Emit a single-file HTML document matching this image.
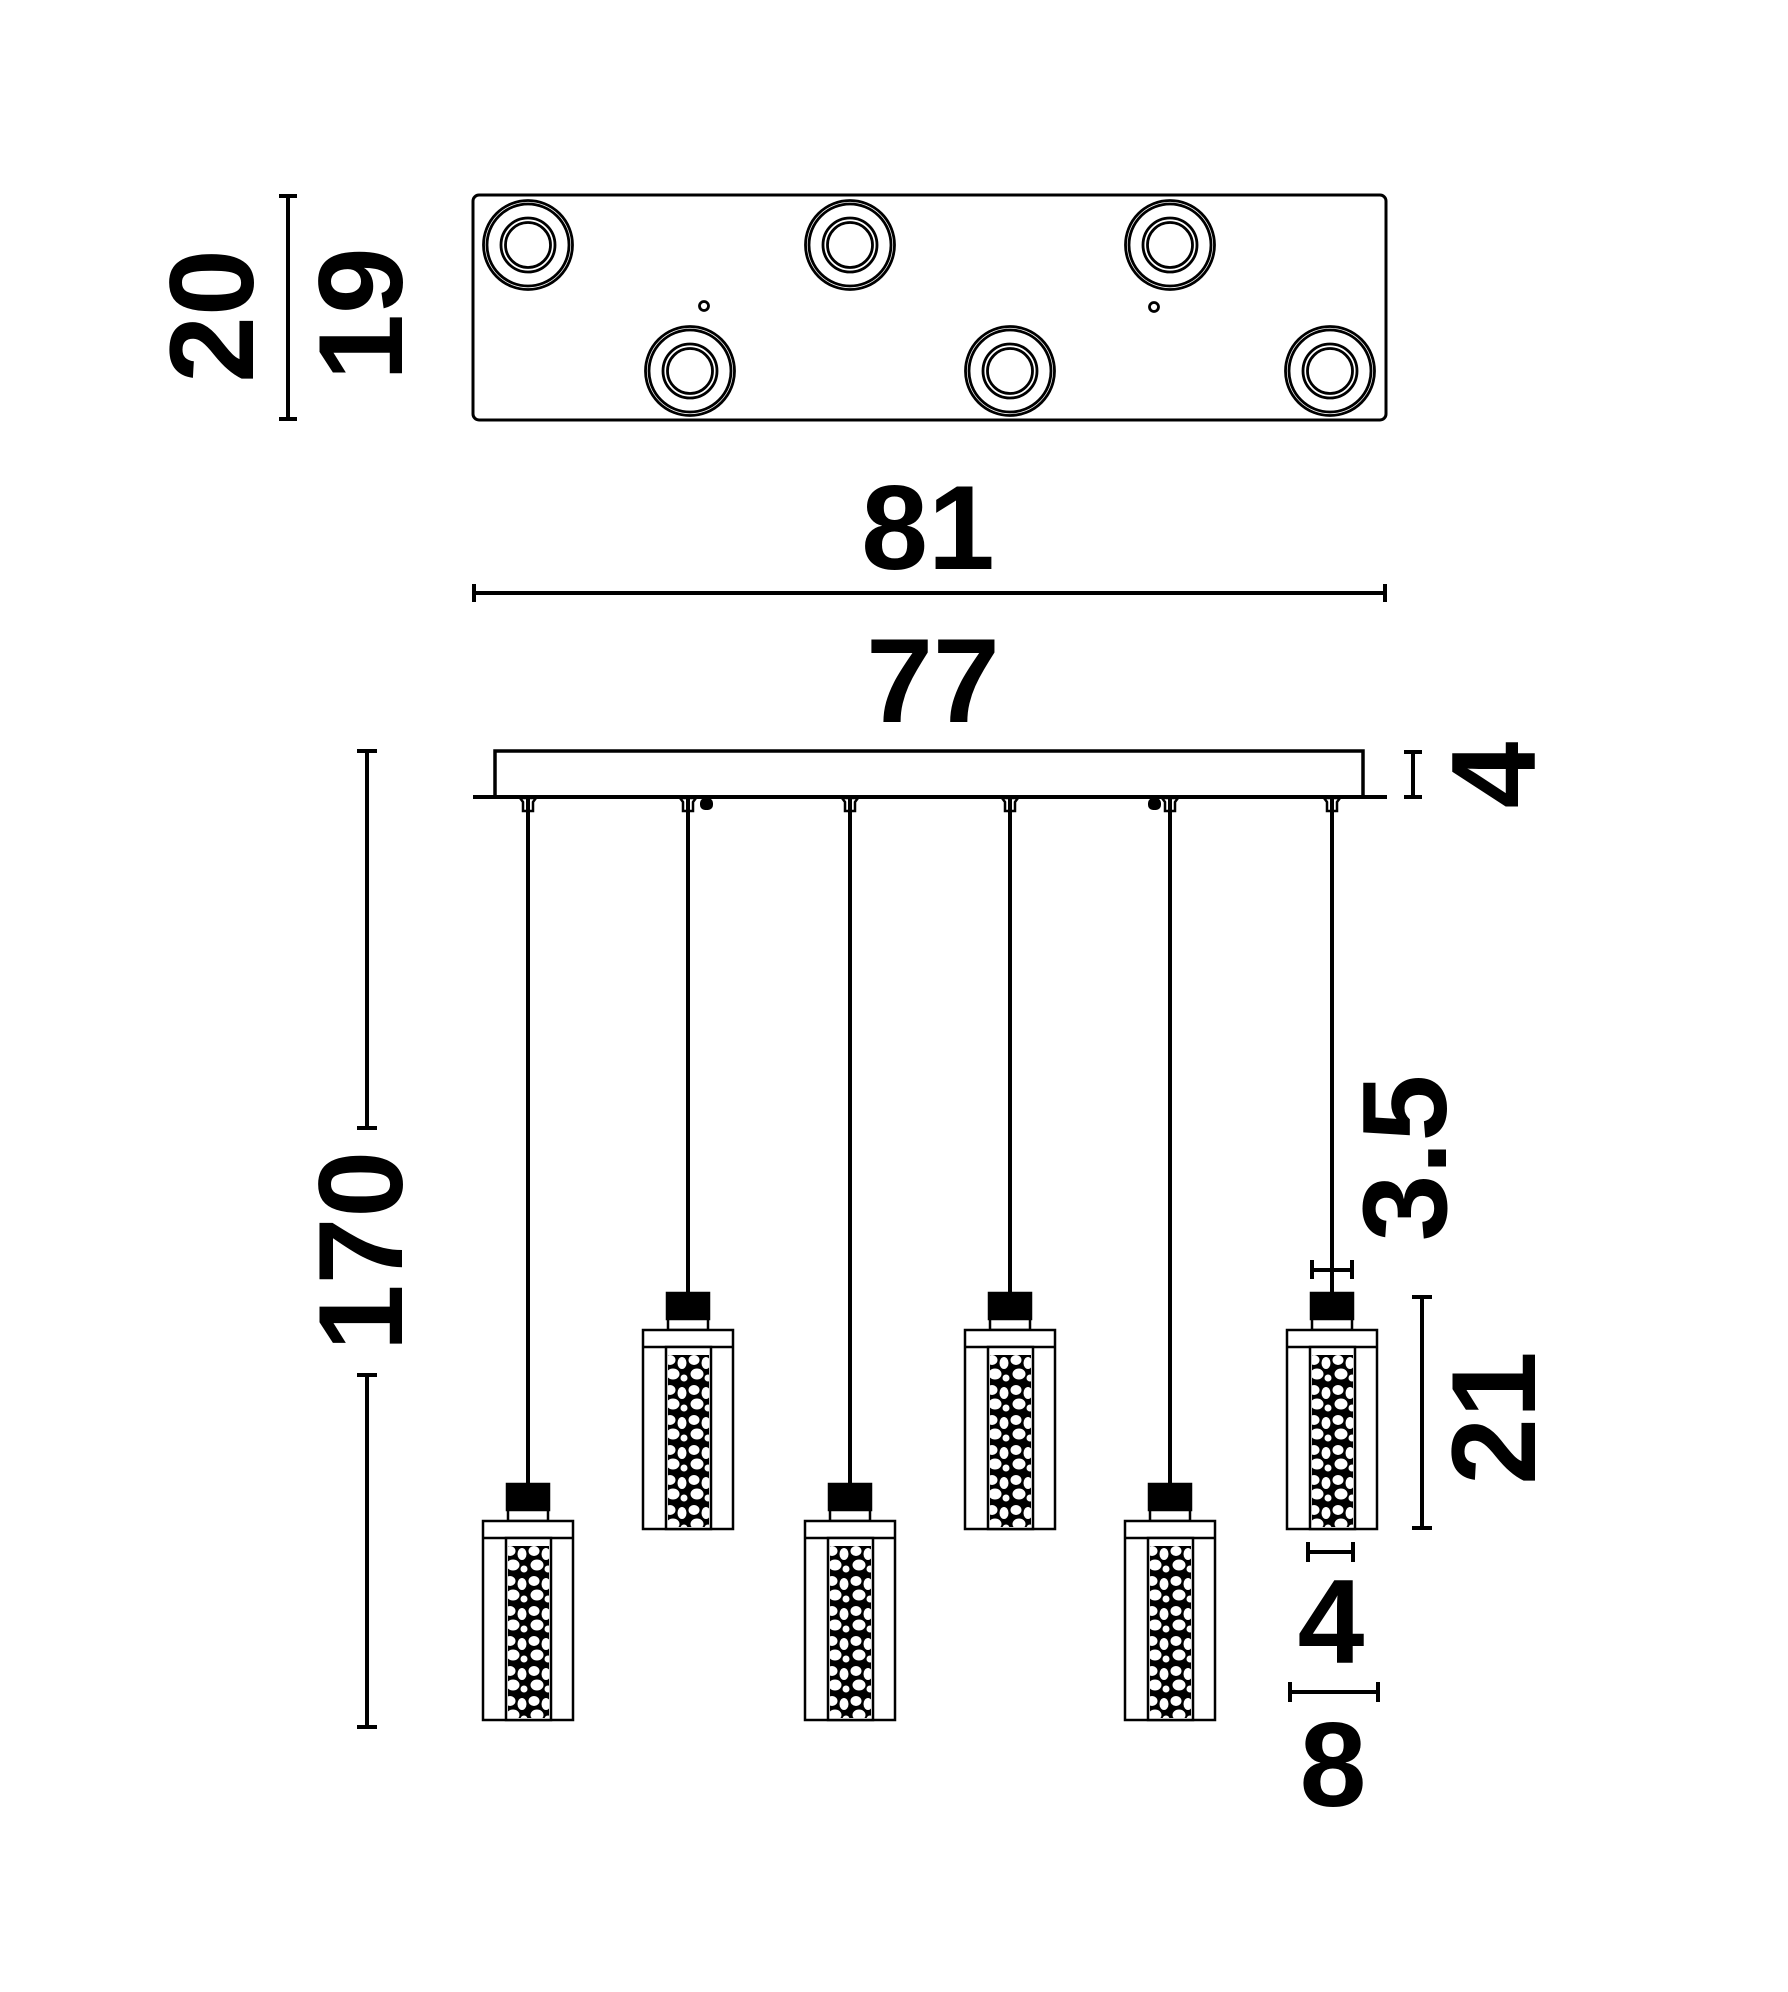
<!DOCTYPE html>
<html><head><meta charset="utf-8"><style>html,body{margin:0;padding:0;background:#fff}svg{display:block}</style></head>
<body>
<svg width="1788" height="1992" viewBox="0 0 1788 1992" xmlns="http://www.w3.org/2000/svg">
<defs>
<pattern id="peb" width="24" height="30" patternUnits="userSpaceOnUse">
<rect width="24" height="30" fill="#000"/>
<ellipse cx="6" cy="7" rx="5.5" ry="5" fill="#fff"/>
<ellipse cx="18" cy="10" rx="4.5" ry="6" fill="#fff"/>
<ellipse cx="9" cy="21" rx="6.5" ry="5.5" fill="#fff"/>
<ellipse cx="20" cy="25" rx="3.5" ry="3.5" fill="#fff"/>
</pattern>
</defs>
<g fill="none" stroke="#000" stroke-width="3">
<rect x="473" y="195" width="913" height="225" rx="6"/>
</g>
<g fill="none" stroke="#000" stroke-width="2.8">
<g><circle cx="528" cy="245" r="44.5"/><circle cx="528" cy="245" r="41"/><circle cx="528" cy="245" r="27"/><circle cx="528" cy="245" r="22.5"/></g>
<g><circle cx="850" cy="245" r="44.5"/><circle cx="850" cy="245" r="41"/><circle cx="850" cy="245" r="27"/><circle cx="850" cy="245" r="22.5"/></g>
<g><circle cx="1170" cy="245" r="44.5"/><circle cx="1170" cy="245" r="41"/><circle cx="1170" cy="245" r="27"/><circle cx="1170" cy="245" r="22.5"/></g>
<g><circle cx="690" cy="371" r="44.5"/><circle cx="690" cy="371" r="41"/><circle cx="690" cy="371" r="27"/><circle cx="690" cy="371" r="22.5"/></g>
<g><circle cx="1010" cy="371" r="44.5"/><circle cx="1010" cy="371" r="41"/><circle cx="1010" cy="371" r="27"/><circle cx="1010" cy="371" r="22.5"/></g>
<g><circle cx="1330" cy="371" r="44.5"/><circle cx="1330" cy="371" r="41"/><circle cx="1330" cy="371" r="27"/><circle cx="1330" cy="371" r="22.5"/></g>
<circle cx="704" cy="306" r="4.5"/><circle cx="1154" cy="307" r="4.5"/>
</g>
<g stroke="#000" stroke-width="4" fill="none">
<line x1="288" y1="196" x2="288" y2="419"/><line x1="279" y1="196" x2="297" y2="196"/><line x1="279" y1="419" x2="297" y2="419"/>
<line x1="474" y1="593" x2="1385" y2="593"/><line x1="474" y1="584" x2="474" y2="602"/><line x1="1385" y1="584" x2="1385" y2="602"/>
<rect x="495" y="751" width="868" height="46" stroke-width="3.5"/>
<line x1="473" y1="797" x2="1387" y2="797"/>
<line x1="1413" y1="752" x2="1413" y2="797"/><line x1="1404" y1="752" x2="1422" y2="752"/><line x1="1404" y1="797" x2="1422" y2="797"/>
<line x1="367" y1="751" x2="367" y2="1128"/><line x1="367" y1="1375" x2="367" y2="1727"/>
<line x1="357" y1="751" x2="377" y2="751"/><line x1="357" y1="1727" x2="377" y2="1727"/>
<line x1="357" y1="1128" x2="377" y2="1128"/><line x1="357" y1="1375" x2="377" y2="1375"/>
<line x1="1422" y1="1297" x2="1422" y2="1528"/><line x1="1412" y1="1297" x2="1432" y2="1297"/><line x1="1412" y1="1528" x2="1432" y2="1528"/>
<line x1="1312" y1="1270" x2="1352" y2="1270"/><line x1="1312" y1="1260" x2="1312" y2="1279"/><line x1="1352" y1="1260" x2="1352" y2="1279"/>
<line x1="1308" y1="1552" x2="1353" y2="1552"/><line x1="1308" y1="1542" x2="1308" y2="1562"/><line x1="1353" y1="1542" x2="1353" y2="1562"/>
<line x1="1290" y1="1692" x2="1378" y2="1692"/><line x1="1290" y1="1682" x2="1290" y2="1702"/><line x1="1378" y1="1682" x2="1378" y2="1702"/>
</g>
<rect x="700" y="798" width="13" height="12" rx="5" fill="#000"/>
<rect x="1148" y="798" width="13" height="12" rx="5" fill="#000"/>
<g stroke="#000" fill="none">
<g stroke-width="4">
<line x1="528" y1="797" x2="528" y2="1484"/><line x1="688" y1="797" x2="688" y2="1293"/>
<line x1="850" y1="797" x2="850" y2="1484"/><line x1="1010" y1="797" x2="1010" y2="1293"/>
<line x1="1170" y1="797" x2="1170" y2="1484"/><line x1="1332" y1="797" x2="1332" y2="1293"/>
</g>
<g stroke-width="2.5">
<path d="M520 798 h16 l-3 4 v9 h-10 v-9z"/><path d="M680 798 h16 l-3 4 v9 h-10 v-9z"/>
<path d="M842 798 h16 l-3 4 v9 h-10 v-9z"/><path d="M1002 798 h16 l-3 4 v9 h-10 v-9z"/>
<path d="M1162 798 h16 l-3 4 v9 h-10 v-9z"/><path d="M1324 798 h16 l-3 4 v9 h-10 v-9z"/>
</g>
</g>
<g stroke="#000" stroke-width="2.5">
<g transform="translate(528,1484)"><rect x="-21" y="0" width="42" height="26" fill="#000"/><rect x="-20" y="26" width="40" height="11" fill="#fff"/><rect x="-45" y="37" width="90" height="199" fill="#fff"/><line x1="-45" y1="54" x2="45" y2="54"/><rect x="-22" y="54" width="45" height="182" fill="#fff"/><rect x="-20" y="62" width="41" height="172" fill="url(#peb)" stroke="none"/></g>
<g transform="translate(688,1293)"><rect x="-21" y="0" width="42" height="26" fill="#000"/><rect x="-20" y="26" width="40" height="11" fill="#fff"/><rect x="-45" y="37" width="90" height="199" fill="#fff"/><line x1="-45" y1="54" x2="45" y2="54"/><rect x="-22" y="54" width="45" height="182" fill="#fff"/><rect x="-20" y="62" width="41" height="172" fill="url(#peb)" stroke="none"/></g>
<g transform="translate(850,1484)"><rect x="-21" y="0" width="42" height="26" fill="#000"/><rect x="-20" y="26" width="40" height="11" fill="#fff"/><rect x="-45" y="37" width="90" height="199" fill="#fff"/><line x1="-45" y1="54" x2="45" y2="54"/><rect x="-22" y="54" width="45" height="182" fill="#fff"/><rect x="-20" y="62" width="41" height="172" fill="url(#peb)" stroke="none"/></g>
<g transform="translate(1010,1293)"><rect x="-21" y="0" width="42" height="26" fill="#000"/><rect x="-20" y="26" width="40" height="11" fill="#fff"/><rect x="-45" y="37" width="90" height="199" fill="#fff"/><line x1="-45" y1="54" x2="45" y2="54"/><rect x="-22" y="54" width="45" height="182" fill="#fff"/><rect x="-20" y="62" width="41" height="172" fill="url(#peb)" stroke="none"/></g>
<g transform="translate(1170,1484)"><rect x="-21" y="0" width="42" height="26" fill="#000"/><rect x="-20" y="26" width="40" height="11" fill="#fff"/><rect x="-45" y="37" width="90" height="199" fill="#fff"/><line x1="-45" y1="54" x2="45" y2="54"/><rect x="-22" y="54" width="45" height="182" fill="#fff"/><rect x="-20" y="62" width="41" height="172" fill="url(#peb)" stroke="none"/></g>
<g transform="translate(1332,1293)"><rect x="-21" y="0" width="42" height="26" fill="#000"/><rect x="-20" y="26" width="40" height="11" fill="#fff"/><rect x="-45" y="37" width="90" height="199" fill="#fff"/><line x1="-45" y1="54" x2="45" y2="54"/><rect x="-22" y="54" width="45" height="182" fill="#fff"/><rect x="-20" y="62" width="41" height="172" fill="url(#peb)" stroke="none"/></g>
</g>
<g font-family="Liberation Sans, sans-serif" font-weight="bold" font-size="120" fill="#000" text-anchor="middle">
<text transform="translate(210,316) rotate(-90)" y="43">20</text>
<text transform="translate(359,314) rotate(-90)" y="43">19</text>
<text x="928" y="569">81</text>
<text x="933" y="722">77</text>
<text transform="translate(1492,775) rotate(-90)" y="43">4</text>
<text transform="translate(359,1251) rotate(-90)" y="43">170</text>
<text transform="translate(1403,1158) rotate(-90)" y="43">3.5</text>
<text transform="translate(1492,1418) rotate(-90)" y="43">21</text>
<text x="1331" y="1663">4</text>
<text x="1333" y="1806">8</text>
</g>
</svg>
</body></html>
